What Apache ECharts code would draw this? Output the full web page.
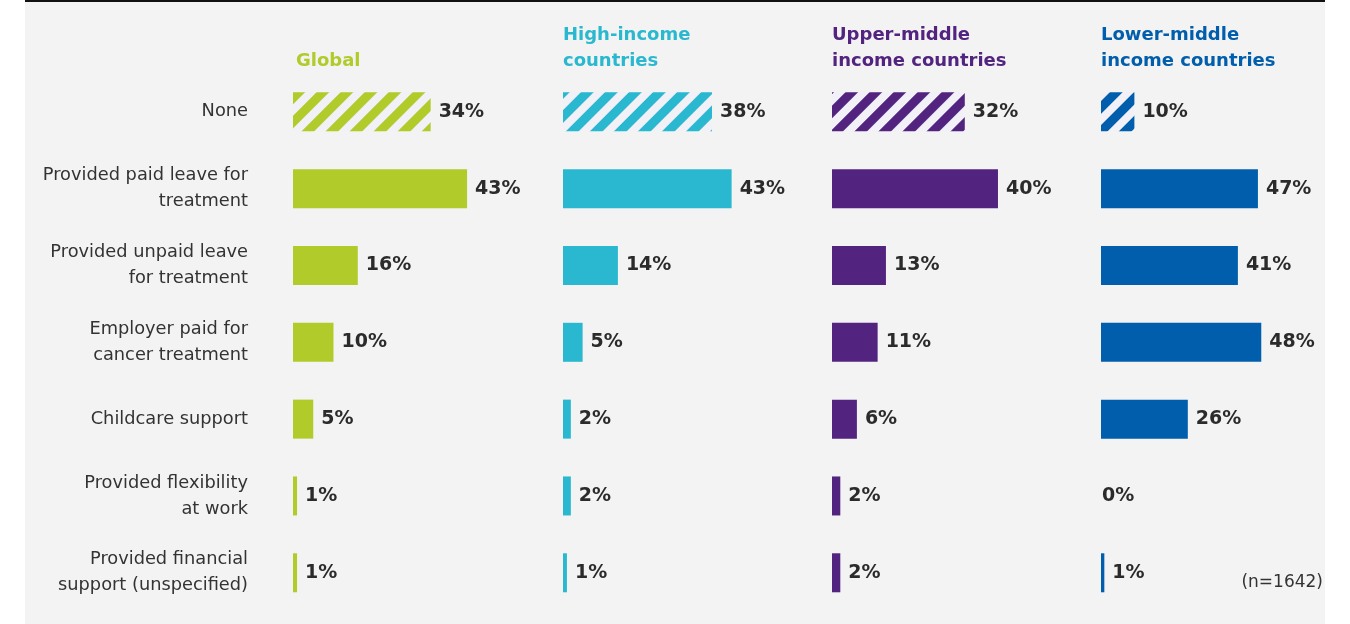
<!DOCTYPE html>
<html>
<head>
<meta charset="utf-8">
<script src="https://cdn.jsdelivr.net/npm/echarts@6/dist/echarts.min.js"></script>
<style>
  html, body { margin: 0; padding: 0; background: #fff; }
  #main { width: 1350px; height: 624px; }
</style>
</head>
<body>
<div id="main"></div>
<script>
// categories (top to bottom)
var categories = [
  'None',
  'Provided paid leave for\ntreatment',
  'Provided unpaid leave\nfor treatment',
  'Employer paid for\ncancer treatment',
  'Childcare support',
  'Provided flexibility\nat work',
  'Provided financial\nsupport (unspecified)'
];

var panelTitles = ['Global', 'High-income\ncountries', 'Upper-middle\nincome countries', 'Lower-middle\nincome countries'];
var panelColors = ['#b0cb2a', '#29b8cf', '#52237f', '#005eac'];

var globalValues = [34, 43, 16, 10, 5, 1, 1];
var highIncomeValues = [38, 43, 14, 5, 2, 2, 1];
var upperMiddleValues = [32, 40, 13, 11, 6, 2, 2];
var lowerMiddleValues = [10, 47, 41, 48, 26, 0, 1];

var panelValues = [globalValues, highIncomeValues, upperMiddleValues, lowerMiddleValues];

// layout per panel
var panelLeft = [293, 563, 832, 1101];
var panelMax = [49.4, 51, 48.2, 59.9];
var gridWidth = 200;
var gridTop = 73.4;
var gridHeight = 537.8;

var font = 'DejaVu Sans';

var myChart = echarts.init(document.getElementById('main'));

var grids = [], xAxes = [], yAxes = [], series = [], titles = [];

panelValues.forEach(function (vals, i) {
  grids.push({ left: panelLeft[i], top: gridTop, width: gridWidth, height: gridHeight });
  xAxes.push({ gridIndex: i, type: 'value', min: 0, max: panelMax[i], show: false });
  yAxes.push({
    gridIndex: i,
    type: 'category',
    inverse: true,
    data: categories,
    axisLine: { show: false },
    axisTick: { show: false },
    splitLine: { show: false },
    axisLabel: {
      show: i === 0,
      margin: 45,
      color: '#333',
      fontFamily: font,
      fontSize: 17.8,
      lineHeight: 26,
      align: 'right'
    }
  });

  var twoLines = panelTitles[i].indexOf('\n') >= 0;
  titles.push({
    text: panelTitles[i],
    left: panelLeft[i] + (i === 0 ? 3 : 0),
    top: twoLines ? 22 : 48,
    padding: 0,
    textStyle: {
      color: panelColors[i],
      fontFamily: font,
      fontSize: 18,
      fontWeight: 'bold',
      lineHeight: 26
    }
  });

  series.push({
    type: 'bar',
    xAxisIndex: i,
    yAxisIndex: i,
    barWidth: 39,
    itemStyle: { color: panelColors[i] },
    label: {
      show: true,
      position: 'right',
      distance: 8,
      formatter: '{c}%',
      color: '#2b2b2b',
      fontFamily: font,
      fontSize: 19,
      fontWeight: 'bold'
    },
    data: vals.map(function (v, j) {
      var item = { value: v };
      if (j === 0) {
        // hatched "None" bar
        item.itemStyle = {
          color: '#f3f1f8',
          decal: {
            symbol: 'rect',
            symbolSize: 1,
            color: panelColors[i],
            dashArrayX: [1, 0],
            dashArrayY: [9, 8],
            rotation: -Math.PI / 4
          }
        };
      }
      if (v === 0) {
        item.label = { distance: 1 };
      }
      return item;
    })
  });
});

myChart.setOption({
  backgroundColor: '#fff',
  animation: false,
  title: titles,
  grid: grids,
  xAxis: xAxes,
  yAxis: yAxes,
  series: series,
  graphic: [
    { type: 'rect', z: -10, shape: { x: 25, y: 0, width: 1300, height: 624 }, style: { fill: '#f3f3f3' } },
    { type: 'rect', z: 10, shape: { x: 25, y: 0, width: 1300, height: 2 }, style: { fill: '#111' } },
    {
      type: 'text', right: 27, top: 574,
      style: { text: '(n=1642)', fill: '#333', font: '17px "DejaVu Sans"' }
    }
  ]
});
</script>
</body>
</html>
